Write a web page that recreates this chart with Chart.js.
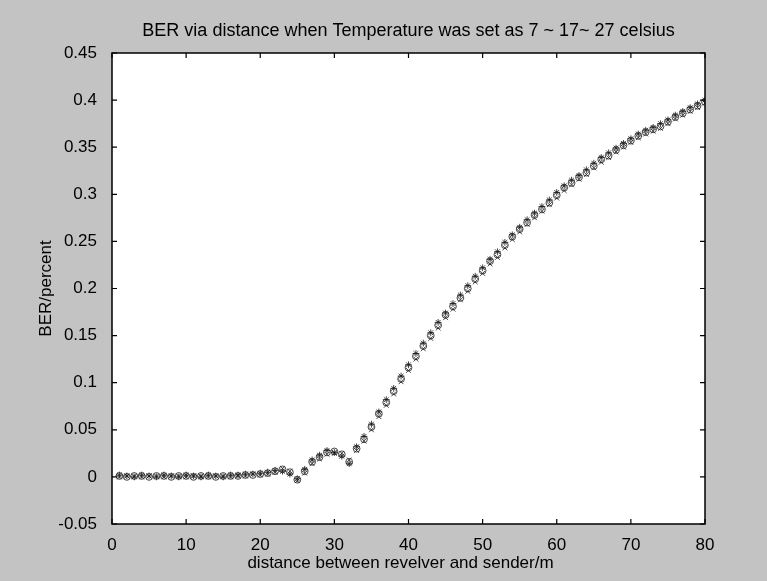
<!DOCTYPE html>
<html>
<head>
<meta charset="utf-8">
<script src="https://cdn.jsdelivr.net/npm/chart.js@4.4.0/dist/chart.umd.min.js"></script>
<style>
  html, body { margin: 0; padding: 0; background: #c3c3c3; }
  #wrap { width: 767px; height: 581px; position: relative; }
</style>
</head>
<body>
<div id="wrap"><canvas id="berChart"></canvas></div>
<script>
/* ---------- data ---------- */
const distance = [
  1, 2, 3, 4, 5, 6, 7, 8, 9, 10, 11, 12, 13, 14, 15, 16, 17, 18, 19, 20,
  21, 22, 23, 24, 25, 26, 27, 28, 29, 30, 31, 32, 33, 34, 35, 36, 37, 38, 39, 40,
  41, 42, 43, 44, 45, 46, 47, 48, 49, 50, 51, 52, 53, 54, 55, 56, 57, 58, 59, 60,
  61, 62, 63, 64, 65, 66, 67, 68, 69, 70, 71, 72, 73, 74, 75, 76, 77, 78, 79, 80
];
const ber7 = [
  0.001, 0.000, 0.001, 0.001, 0.000, 0.001, 0.001, 0.000, 0.001, 0.001,
  0.000, 0.001, 0.001, 0.000, 0.001, 0.001, 0.001, 0.002, 0.002, 0.003,
  0.004, 0.006, 0.008, 0.005, -0.003, 0.006, 0.016, 0.021, 0.026, 0.027,
  0.024, 0.016, 0.030, 0.040, 0.053, 0.067, 0.079, 0.091, 0.104, 0.116,
  0.128, 0.139, 0.150, 0.161, 0.172, 0.181, 0.190, 0.200, 0.210, 0.219,
  0.229, 0.236, 0.246, 0.255, 0.263, 0.270, 0.278, 0.284, 0.291, 0.299,
  0.307, 0.312, 0.318, 0.323, 0.330, 0.337, 0.341, 0.347, 0.352, 0.357,
  0.362, 0.366, 0.369, 0.372, 0.377, 0.382, 0.386, 0.390, 0.394, 0.398
];
const ber17 = [
  0.002, 0.001, 0.000, 0.002, 0.001, 0.000, 0.002, 0.001, 0.000, 0.002,
  0.001, 0.000, 0.002, 0.001, 0.000, 0.002, 0.002, 0.003, 0.003, 0.004,
  0.005, 0.007, 0.006, 0.003, -0.002, 0.008, 0.018, 0.023, 0.028, 0.026,
  0.022, 0.014, 0.032, 0.043, 0.056, 0.069, 0.082, 0.094, 0.107, 0.119,
  0.131, 0.142, 0.153, 0.164, 0.174, 0.184, 0.193, 0.203, 0.213, 0.222,
  0.231, 0.239, 0.249, 0.257, 0.265, 0.273, 0.280, 0.287, 0.294, 0.302,
  0.309, 0.315, 0.320, 0.326, 0.333, 0.339, 0.344, 0.349, 0.354, 0.359,
  0.364, 0.368, 0.371, 0.375, 0.379, 0.384, 0.388, 0.392, 0.396, 0.400
];
const ber27 = [
  0.000, 0.001, 0.001, 0.000, 0.001, 0.001, 0.000, 0.001, 0.001, 0.000,
  0.001, 0.001, 0.000, 0.001, 0.001, 0.000, 0.001, 0.001, 0.003, 0.002,
  0.003, 0.005, 0.009, 0.006, -0.004, 0.004, 0.014, 0.019, 0.024, 0.025,
  0.025, 0.018, 0.028, 0.038, 0.050, 0.064, 0.076, 0.088, 0.101, 0.113,
  0.125, 0.136, 0.147, 0.158, 0.169, 0.178, 0.188, 0.197, 0.207, 0.216,
  0.226, 0.233, 0.243, 0.252, 0.260, 0.268, 0.275, 0.282, 0.289, 0.296,
  0.304, 0.310, 0.316, 0.321, 0.328, 0.334, 0.339, 0.345, 0.350, 0.355,
  0.360, 0.364, 0.367, 0.370, 0.375, 0.380, 0.384, 0.388, 0.392, 0.397
];
const xTicks = [0, 10, 20, 30, 40, 50, 60, 70, 80];
const yTicks = [-0.05, 0, 0.05, 0.1, 0.15, 0.2, 0.25, 0.3, 0.35, 0.4, 0.45];

const titleText = "BER via distance when Temperature was set as 7 ~ 17~ 27 celsius";
const xLabel = "distance between revelver and sender/m";
const yLabel = "BER/percent";

const FONT = "'Liberation Sans', Arial, sans-serif";
const toPoints = arr => distance.map((d, i) => ({ x: d, y: arr[i] }));

/* ---------- background, frame, inward ticks, labels ---------- */
const matlabFrame = {
  id: "matlabFrame",
  beforeDraw(chart) {
    const { ctx, chartArea: a } = chart;
    ctx.save();
    ctx.fillStyle = "#c3c3c3";
    ctx.fillRect(0, 0, chart.width, chart.height);
    ctx.fillStyle = "#ffffff";
    ctx.fillRect(a.left, a.top, a.right - a.left, a.bottom - a.top);
    ctx.restore();
  },
  afterDraw(chart) {
    const { ctx, chartArea: a, scales } = chart;
    ctx.save();
    ctx.strokeStyle = "#000";
    ctx.lineWidth = 1.5;
    ctx.strokeRect(a.left, a.top, a.right - a.left, a.bottom - a.top);

    // inward tick marks on all four sides
    ctx.lineWidth = 1.2;
    const len = 5;
    xTicks.forEach(v => {
      const px = scales.x.getPixelForValue(v);
      ctx.beginPath();
      ctx.moveTo(px, a.bottom); ctx.lineTo(px, a.bottom - len);
      ctx.moveTo(px, a.top); ctx.lineTo(px, a.top + len);
      ctx.stroke();
    });
    yTicks.forEach(v => {
      const py = scales.y.getPixelForValue(v);
      ctx.beginPath();
      ctx.moveTo(a.left, py); ctx.lineTo(a.left + len, py);
      ctx.moveTo(a.right, py); ctx.lineTo(a.right - len, py);
      ctx.stroke();
    });

    // title + axis labels
    const cx = (a.left + a.right) / 2;
    const cy = (a.top + a.bottom) / 2;
    ctx.fillStyle = "#000";
    ctx.textAlign = "center";
    ctx.textBaseline = "middle";
    ctx.font = "18px " + FONT;
    ctx.fillText(titleText, cx, 31);
    ctx.font = "17px " + FONT;
    ctx.fillText(xLabel, cx - 8, 563);
    ctx.translate(46, cy);
    ctx.rotate(-Math.PI / 2);
    ctx.fillText(yLabel, 0, 0);
    ctx.restore();
  }
};

const markerSet = (label, data, style) => ({
  label: label,
  data: toPoints(data),
  showLine: false,
  pointStyle: style,
  pointRadius: 3.4,
  pointBorderWidth: 0.8,
  pointBorderColor: "#1a1a1a",
  pointBackgroundColor: "rgba(0,0,0,0)"
});

new Chart(document.getElementById("berChart"), {
  type: "scatter",
  data: {
    datasets: [
      markerSet("7 celsius", ber7, "circle"),
      markerSet("17 celsius", ber17, "star"),
      markerSet("27 celsius", ber27, "crossRot")
    ]
  },
  plugins: [matlabFrame],
  options: {
    responsive: true,
    maintainAspectRatio: false,
    animation: false,
    layout: { padding: { top: 53, bottom: 0, left: 0, right: 62 } },
    plugins: {
      legend: { display: false },
      tooltip: { enabled: false }
    },
    scales: {
      x: {
        type: "linear",
        min: 0,
        max: 80,
        afterBuildTicks: s => { s.ticks = xTicks.map(v => ({ value: v })); },
        afterFit: s => { s.height = 57; },
        grid: { display: false },
        border: { display: false },
        ticks: {
          color: "#000",
          padding: 3,
          maxRotation: 0,
          font: { family: FONT, size: 17 }
        }
      },
      y: {
        type: "linear",
        min: -0.05,
        max: 0.45,
        afterBuildTicks: s => { s.ticks = yTicks.map(v => ({ value: v })); },
        afterFit: s => { s.width = 112; },
        grid: { display: false },
        border: { display: false },
        ticks: {
          color: "#000",
          padding: 7,
          font: { family: FONT, size: 17 },
          callback: v => String(Number(v.toFixed(2)))
        }
      }
    }
  }
});
</script>
</body>
</html>
